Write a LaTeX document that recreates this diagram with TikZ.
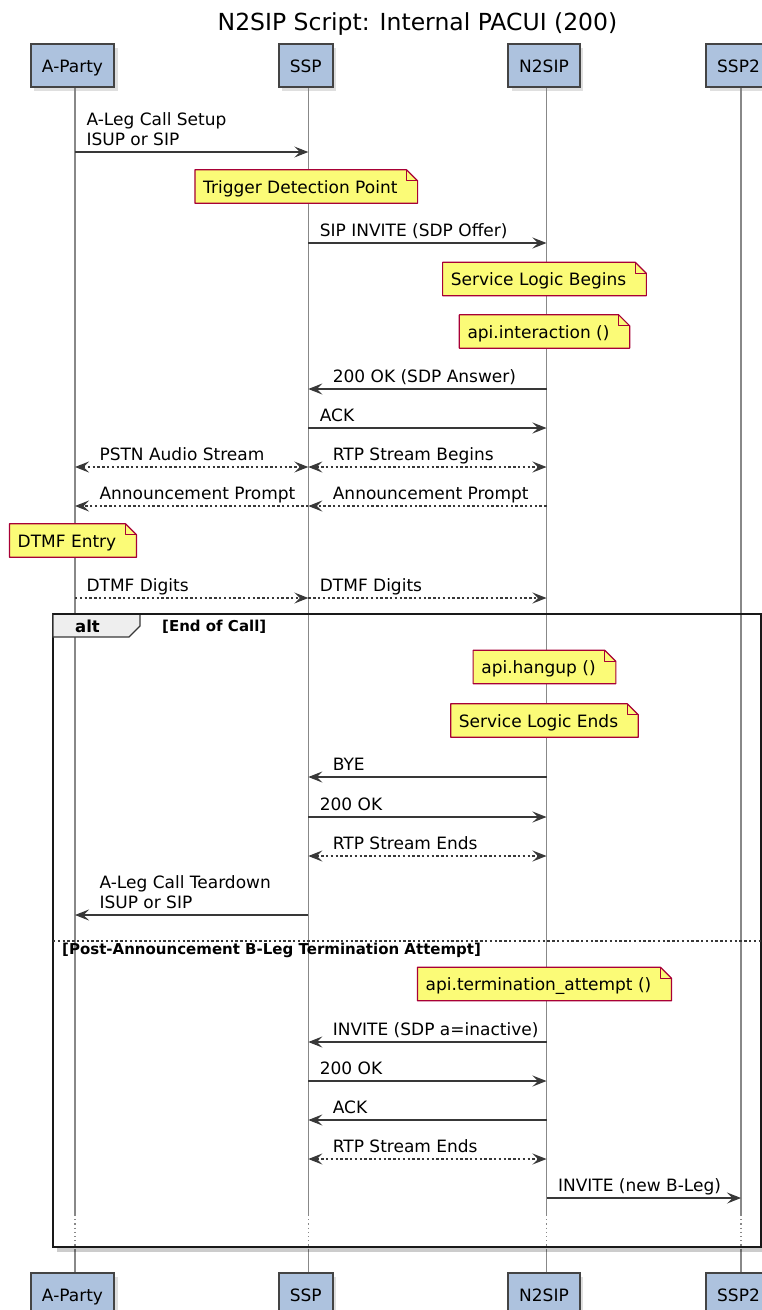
\documentclass[tikz,border=0pt]{standalone}
\usepackage{fontspec}
\setmainfont{DejaVu Sans}
\usetikzlibrary{arrows.meta,shadows}

\definecolor{partfill}{RGB}{173,194,222}
\definecolor{partdraw}{RGB}{68,68,68}
\definecolor{notefill}{RGB}{251,251,119}
\definecolor{notedraw}{RGB}{168,0,54}
\definecolor{lifegray}{RGB}{136,136,136}
\definecolor{msgcol}{RGB}{56,56,56}
\definecolor{tabfill}{RGB}{238,238,238}

\newcommand{\msgfont}{\fontsize{17}{20}\selectfont}

\pgfdeclarelayer{lines}
\pgfdeclarelayer{boxes}
\pgfsetlayers{lines,boxes,main}

\tikzset{
  part/.style={draw=partdraw, fill=partfill, line width=1.6pt, minimum height=43pt,
    inner xsep=11pt, font=\msgfont, text height=16.4pt, text depth=2pt,
    drop shadow={shadow xshift=3.5pt, shadow yshift=-3.5pt, opacity=0.25}},
  life/.style={lifegray, line width=1.1pt},
  msg/.style={msgcol, line width=1.1pt},
  ret/.style={msg, dash pattern=on 2.4pt off 2.4pt},
  txt/.style={anchor=south west, inner sep=0pt, align=left, font=\msgfont, text=black,
    yshift=-0.5pt, execute at end node={\strut}},
  txtR/.style={txt, xshift=11pt},
  txtL/.style={txt, xshift=24pt},
  note/.style={font=\msgfont, inner xsep=8pt, inner ysep=0pt, minimum height=33pt,
    text height=16pt, text depth=2.4pt, xshift=-2pt, execute at end node={\hspace{12pt}}},
  notebody/.style={fill=notefill, draw=notedraw, line width=1.2pt, line join=round},
  noteshadow/.style={fill=black, opacity=0.22},
  grp/.style={font=\bfseries\fontsize{15}{18}\selectfont, inner sep=0pt, anchor=base west},
}

\begin{document}
\begin{tikzpicture}[x=1pt, y=-1pt, >={Stealth[length=14pt,width=11pt,inset=5.5pt]}]
  \useasboundingbox (0,0) rectangle (762,1310);

  % Title
  \node[font=\fontsize{23.5}{28}\selectfont, anchor=base] (title) at (417.5,30) {N2SIP Script: Internal PACUI (200)};

  % Lifeline positions
  \coordinate (ap) at (75,0);
  \coordinate (ssp) at (308.3,0);
  \coordinate (n2sip) at (546.5,0);
  \coordinate (ssp2) at (741,0);

  % Participants (top and bottom)
  \node[part] (apT) at (72.5,65.5) {A-Party};
  \node[part] (sspT) at (305.8,65.5) {SSP};
  \node[part] (n2sipT) at (544,65.5) {N2SIP};
  \node[part] (ssp2T) at (738.5,65.5) {SSP2};
  \node[part] (apB) at (72.5,1294.5) {A-Party};
  \node[part] (sspB) at (305.8,1294.5) {SSP};
  \node[part] (n2sipB) at (544,1294.5) {N2SIP};
  \node[part] (ssp2B) at (738.5,1294.5) {SSP2};

  % Lifelines
  \begin{pgfonlayer}{lines}
    \foreach \p in {ap,ssp,n2sip,ssp2} {
      \draw[life] (\p |- 0,87) -- (\p |- 0,1215);
      \draw[life, dash pattern=on 1.2pt off 3pt] (\p |- 0,1215) -- (\p |- 0,1249);
      \draw[life] (\p |- 0,1249) -- (\p |- 0,1273);
    }
  \end{pgfonlayer}

  % Call setup
  \draw[msg, ->] (ap |- 0,152) -- (ssp |- 0,152) node[pos=0, txtR] (m1) {A-Leg Call Setup\\ISUP or SIP};
  \node[note] (tdp) at (ssp |- 0,186.5) {Trigger Detection Point};
  \draw[msg, ->] (ssp |- 0,243) -- (n2sip |- 0,243) node[pos=0, txtR] (m2) {SIP INVITE (SDP Offer)};
  \node[note] (slb) at (n2sip |- 0,279) {Service Logic Begins};
  \node[note] (apiint) at (n2sip |- 0,331.5) {api.interaction ()};
  \draw[msg, ->] (n2sip |- 0,389) -- (ssp |- 0,389) node[pos=1, txtL] (m3) {200 OK (SDP Answer)};
  \draw[msg, ->] (ssp |- 0,428) -- (n2sip |- 0,428) node[pos=0, txtR] (m4) {ACK};

  % Media streams
  \draw[ret, <->] (ap |- 0,467) -- (ssp |- 0,467) node[pos=0, txtL] (m5) {PSTN Audio Stream};
  \draw[ret, <->] (ssp |- 0,467) -- (n2sip |- 0,467) node[pos=0, txtL] (m6) {RTP Stream Begins};
  \draw[ret, ->] (ssp |- 0,506) -- (ap |- 0,506) node[pos=1, txtL] (m7) {Announcement Prompt};
  \draw[ret, ->] (n2sip |- 0,506) -- (ssp |- 0,506) node[pos=1, txtL] (m8) {Announcement Prompt};

  % DTMF
  \node[note] (dtmf) at (ap |- 0,540.5) {DTMF Entry};
  \draw[ret, ->] (ap |- 0,598) -- (ssp |- 0,598) node[pos=0, txtR] (m9) {DTMF Digits};
  \draw[ret, ->] (ssp |- 0,598) -- (n2sip |- 0,598) node[pos=0, txtR] (m10) {DTMF Digits};

  % alt frame
  \fill[black, opacity=0.2] (57,1248) rectangle (762,1252);
  \draw[black!90, line width=2.6pt] (53,614) rectangle (761,1247);
  \filldraw[fill=tabfill, draw=msgcol, line width=1.1pt] (53,614) -- (140,614) -- (140,626) -- (129,637) -- (53,637) -- cycle;
  \draw[black!90, line width=2.6pt] (53,614) -- (761,614);
  \node[grp, font=\bfseries\fontsize{16.5}{19}\selectfont] (altlbl) at (75,632) {alt};
  \node[grp] (altcond) at (162,631) {[End of Call]};

  % End of call
  \node[note] (apihang) at (n2sip |- 0,667) {api.hangup ()};
  \node[note] (sle) at (n2sip |- 0,720.5) {Service Logic Ends};
  \draw[msg, ->] (n2sip |- 0,777) -- (ssp |- 0,777) node[pos=1, txtL] (m11) {BYE};
  \draw[msg, ->] (ssp |- 0,817) -- (n2sip |- 0,817) node[pos=0, txtR] (m12) {200 OK};
  \draw[ret, <->] (ssp |- 0,856) -- (n2sip |- 0,856) node[pos=0, txtL] (m13) {RTP Stream Ends};
  \draw[msg, ->] (ssp |- 0,915) -- (ap |- 0,915) node[pos=1, txtL] (m14) {A-Leg Call Teardown\\ISUP or SIP};

  % else branch
  \draw[msgcol, line width=1.1pt, dash pattern=on 2.4pt off 2.4pt] (53,941) -- (761,941);
  \node[grp] (elsecond) at (62,954) {[Post-Announcement B-Leg Termination Attempt]};
  \node[note] (apiterm) at (n2sip |- 0,984) {api.termination\_attempt ()};
  \draw[msg, ->] (n2sip |- 0,1042) -- (ssp |- 0,1042) node[pos=1, txtL] (m15) {INVITE (SDP a=inactive)};
  \draw[msg, ->] (ssp |- 0,1081) -- (n2sip |- 0,1081) node[pos=0, txtR] (m16) {200 OK};
  \draw[msg, ->] (n2sip |- 0,1120) -- (ssp |- 0,1120) node[pos=1, txtL] (m17) {ACK};
  \draw[ret, <->] (ssp |- 0,1159) -- (n2sip |- 0,1159) node[pos=0, txtL] (m18) {RTP Stream Ends};
  \draw[msg, ->] (n2sip |- 0,1198) -- (ssp2 |- 0,1198) node[pos=0, txtR] (m19) {INVITE (new B-Leg)};

  % Note bodies with folded corner
  \begin{pgfonlayer}{boxes}
    \foreach \n in {tdp,slb,apiint,dtmf,apihang,sle,apiterm} {
      \fill[noteshadow, xshift=3.5pt, yshift=-3.5pt] (\n.south west) -- (\n.north west) -- ([xshift=-11pt]\n.north east)
        -- ([yshift=-11pt]\n.north east) -- (\n.south east) -- cycle;
      \filldraw[notebody] (\n.south west) -- (\n.north west) -- ([xshift=-11pt]\n.north east)
        -- ([yshift=-11pt]\n.north east) -- (\n.south east) -- cycle;
      \draw[notebody, fill=none] ([xshift=-11pt]\n.north east) -- ([xshift=-11pt, yshift=-11pt]\n.north east)
        -- ([yshift=-11pt]\n.north east);
    }
  \end{pgfonlayer}

\end{tikzpicture}
\end{document}
